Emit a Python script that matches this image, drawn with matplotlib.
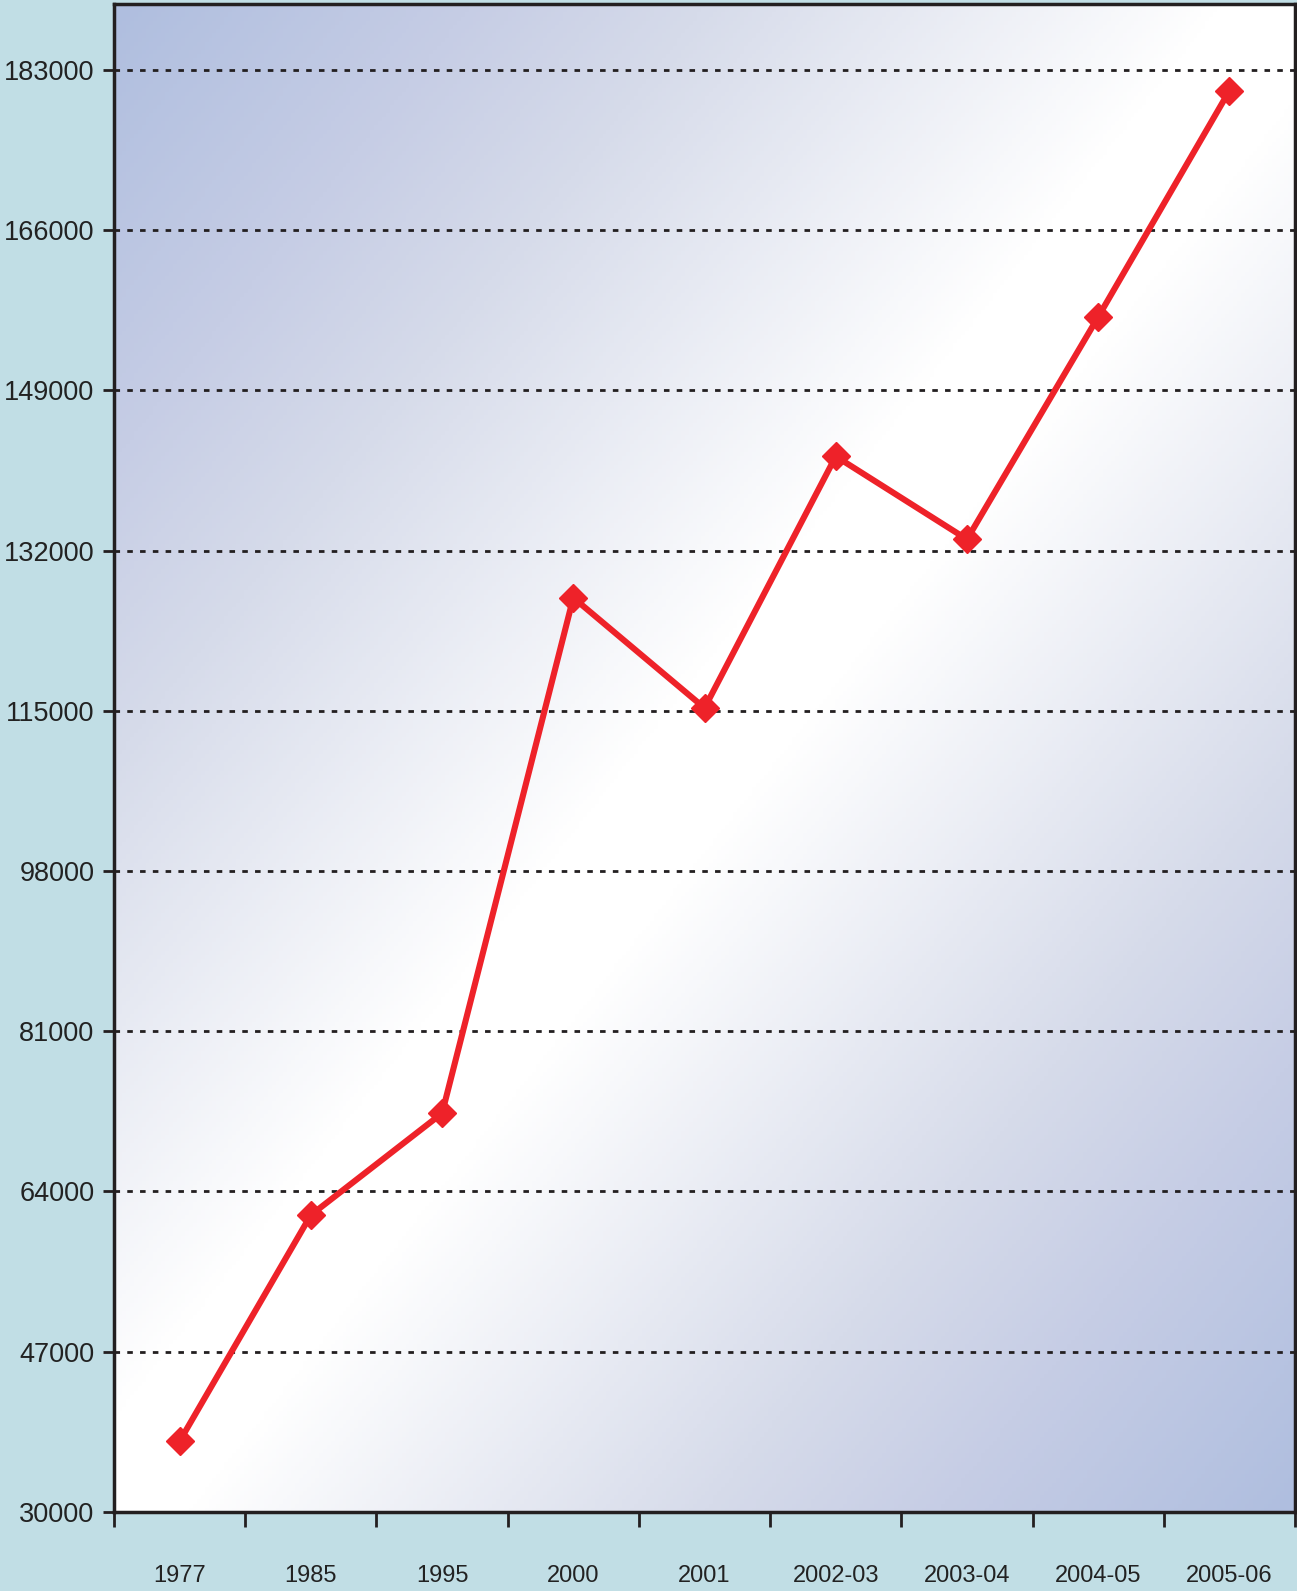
import numpy as np
import matplotlib.pyplot as plt
from matplotlib.colors import LinearSegmentedColormap

plt.rcParams['font.family'] = ['Liberation Sans', 'DejaVu Sans']

# data
years = ["1977", "1985", "1995", "2000", "2001", "2002-03", "2003-04", "2004-05", "2005-06"]
values = [37500, 61500, 72300, 127000, 115300, 142000, 133200, 156800, 180800]
yticks = [30000, 47000, 64000, 81000, 98000, 115000, 132000, 149000, 166000, 183000]

fig = plt.figure(figsize=(12.97, 15.91), dpi=100, facecolor='#c1dee5')
ax = fig.add_axes([0.0879, 0.0497, 0.9106, 0.9478])

# diagonal gradient background: blue corners, white band across the middle
nx, ny = 300, 360
gx, gy = np.meshgrid(np.linspace(0, 1, nx), np.linspace(0, 1, ny))
t = (gx + gy) / 2.0          # 0 at top-left, 1 at bottom-right (origin upper)
g = np.abs(t - 0.5) * 2.0
cmap = LinearSegmentedColormap.from_list(
    'bg', [(0, '#ffffff'), (0.06, '#ffffff'), (0.5, '#d6dbea'), (0.7, '#c6cde5'), (1, '#afbedf')])
ax.imshow(g, cmap=cmap, extent=[0, 1, 0, 1], transform=ax.transAxes,
          aspect='auto', zorder=0, vmin=0, vmax=1)

x = np.arange(len(years))
ax.plot(x, values, color='#ee2229', lw=4.4, marker='D', markersize=14,
        markeredgecolor='#ee2229', zorder=3)

ax.set_xlim(-0.5, len(years) - 0.5)
ax.set_ylim(30000, 190000)
ax.set_yticks(yticks)
ax.set_yticklabels([str(v) for v in yticks], fontsize=19.5, color='#222222')
ax.set_xticks(np.arange(-0.5, len(years), 1.0))
ax.set_xticklabels([])
ax.set_xticks(x, minor=True)
ax.set_xticklabels(years, minor=True, fontsize=17, color='#222222')
ax.tick_params(axis='x', which='major', length=11, width=2, color='#231f20', direction='out')
ax.tick_params(axis='x', which='minor', length=0, pad=38)
ax.tick_params(axis='y', length=8, width=2, color='#231f20', direction='out', pad=6)

for v in yticks[1:]:
    ax.axhline(v, color='#231f20', lw=2, linestyle=(0, (2, 2.6)), zorder=2)

for s in ax.spines.values():
    s.set_linewidth(2.5)
    s.set_color('#231f20')

fig.savefig('out.png', dpi=100, facecolor=fig.get_facecolor())
